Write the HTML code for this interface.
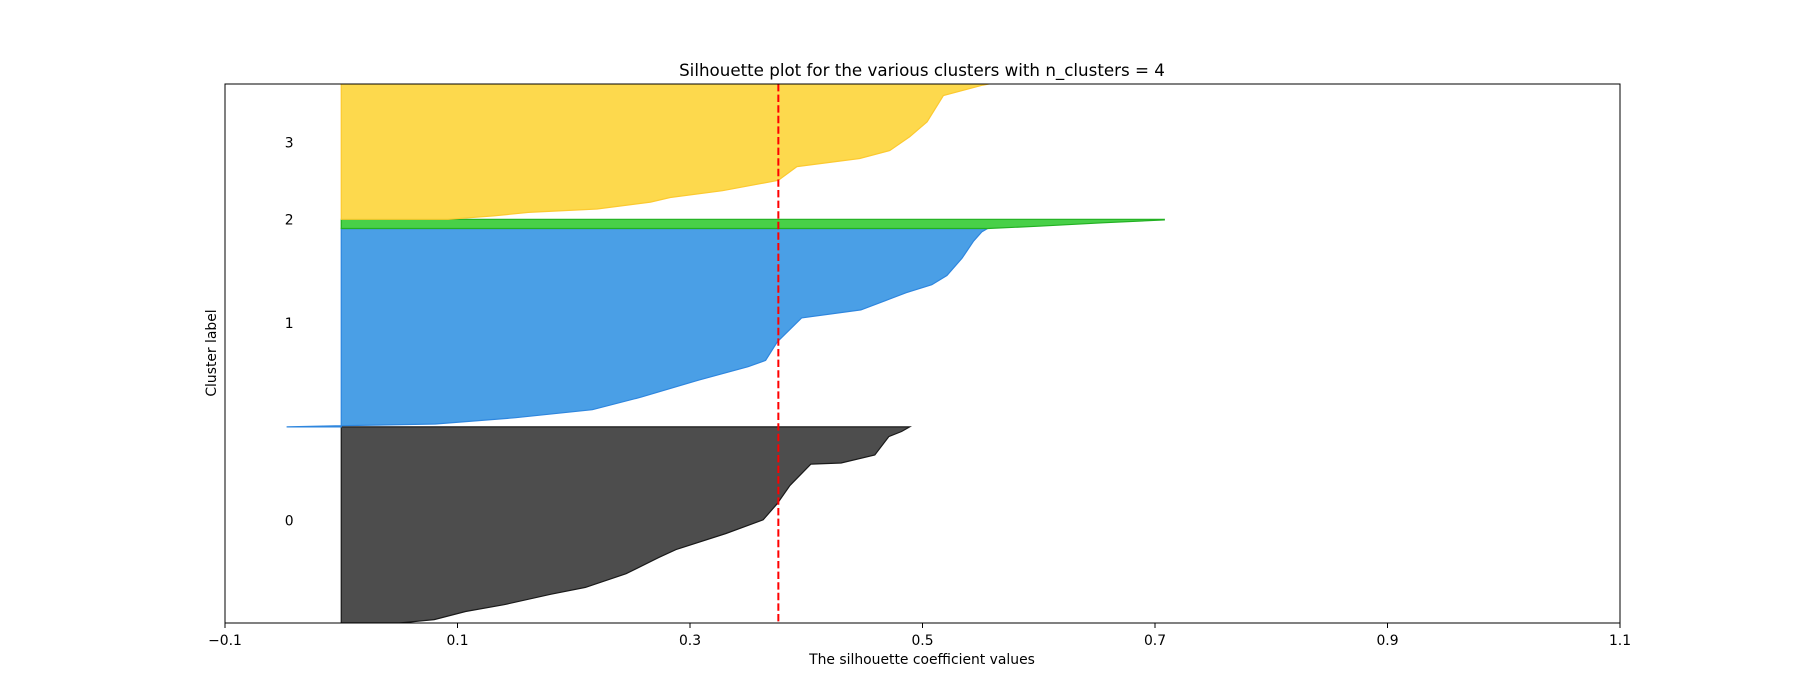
<!DOCTYPE html>
<html><head><meta charset="utf-8"><style>
body{margin:0;background:#fff;}
svg{display:block;font-family:"DejaVu Sans","Liberation Sans",sans-serif;}
</style></head><body>
<svg id="chart" width="1800" height="700" viewBox="0 0 1800 700" xmlns="http://www.w3.org/2000/svg">
<defs><clipPath id="plotclip"><rect x="225" y="84" width="1395" height="539"/></clipPath></defs>
<g id="marks" clip-path="url(#plotclip)"></g>
<g id="axes"></g>
</svg>
<script>
const clusterLabels = ["0","1","2","3"];
const clusterStarts = [0, 171, 344, 352];
const clusterSizes = [171, 173, 8, 126];
const c0Pos = [0,3,10,16,25,31,43,57,64,78,90,104,120,138.6,139.5,146.5,162.5,167,171];
const c0Val = [0.05,0.08,0.107,0.14,0.18,0.21,0.245,0.273,0.288,0.331,0.363,0.375,0.386,0.404,0.43,0.459,0.471,0.482,0.489];
const c1Pos = [0,1,2.5,8,15,26,41,52.5,58,74,95,102,110,117,124,132,147,162,170,173];
const c1Val = [-0.047,0,0.081,0.15,0.216,0.258,0.308,0.35,0.365,0.375,0.396,0.447,0.468,0.486,0.508,0.521,0.534,0.544,0.551,0.556];
const c2Pos = [0,2,5,7.5,8];
const c2Val = [0.556,0.6,0.655,0.708,0.708];
const c3Pos = [0,3,6,9,15,19,25,34,46,53,60,72,85,108,117,126];
const c3Val = [0.092,0.131,0.161,0.22,0.266,0.283,0.328,0.376,0.392,0.446,0.472,0.489,0.504,0.518,0.552,0.6];
const xTicks = [-0.1,0.1,0.3,0.5,0.7,0.9,1.1];
const xTickLabels = ["\u22120.1","0.1","0.3","0.5","0.7","0.9","1.1"];
const avgScore = 0.376;

const X0=225,X1=1620,Y0=623,Y1=84,xMin=-0.1,xMax=1.1,yMin=0,yMax=470;
function sx(v){return X0+(v-xMin)/(xMax-xMin)*(X1-X0);}
function sy(v){return Y0-(v-yMin)/(yMax-yMin)*(Y0-Y1);}
const NS="http://www.w3.org/2000/svg";
function mk(tag,attrs,parent){const e=document.createElementNS(NS,tag);for(const k in attrs)e.setAttribute(k,attrs[k]);parent.appendChild(e);return e;}
const marks=document.getElementById('marks'), axes=document.getElementById('axes');
const posArr=[c0Pos,c1Pos,c2Pos,c3Pos], valArr=[c0Val,c1Val,c2Val,c3Val];
const fills=["#4d4d4d","#4a9fe6","#48d048","#fdd94d"], strokes=["#1a1a1a","#2e86de","#22b022","#fcc930"];
for(let c=0;c<4;c++){
  const st=clusterStarts[c], en=st+clusterSizes[c];
  let d="M"+sx(0)+","+sy(st);
  for(let i=0;i<posArr[c].length;i++) d+=" L"+sx(valArr[c][i]).toFixed(1)+","+sy(st+posArr[c][i]).toFixed(1);
  d+=" L"+sx(0)+","+sy(en)+" Z";
  const p=mk('path',{d:d,fill:fills[c],stroke:strokes[c],'stroke-width':1.2},marks);
  
  
  const t=mk('text',{x:sx(-0.05)+6,y:sy(st+clusterSizes[c]/2+4)+5,'font-size':13.9,'text-anchor':'middle',fill:'#000'},axes);
  t.textContent=clusterLabels[c];
  
  
}
const avg=mk('line',{x1:sx(avgScore),x2:sx(avgScore),y1:Y1,y2:Y0,stroke:'#ff0000','stroke-width':2,'stroke-dasharray':'7.4,3.2'},marks);


const frame=mk('rect',{x:X0,y:Y1,width:X1-X0,height:Y0-Y1,fill:'none',stroke:'#000','stroke-width':1},axes);


for(let i=0;i<xTicks.length;i++){
  const x=sx(xTicks[i]);
  const tk=mk('line',{x1:x,x2:x,y1:Y0,y2:Y0+5,stroke:'#000','stroke-width':1},axes);
  
  
  const tl=mk('text',{x:x,y:Y0+22,'font-size':13.9,'text-anchor':'middle',fill:'#000'},axes);
  tl.textContent=xTickLabels[i];
  
  
}
</script>
<svg style="position:absolute;left:0;top:0" width="1800" height="700">
<text x="922" y="76" font-size="16.7" text-anchor="middle" font-family="DejaVu Sans, Liberation Sans, sans-serif">Silhouette plot for the various clusters with n_clusters = 4</text>
<text x="922" y="664" font-size="13.9" text-anchor="middle" font-family="DejaVu Sans, Liberation Sans, sans-serif">The silhouette coefficient values</text>
<text x="216" y="353" font-size="13.9" text-anchor="middle" transform="rotate(-90 216 353)" font-family="DejaVu Sans, Liberation Sans, sans-serif">Cluster label</text>
</svg>
</body></html>
